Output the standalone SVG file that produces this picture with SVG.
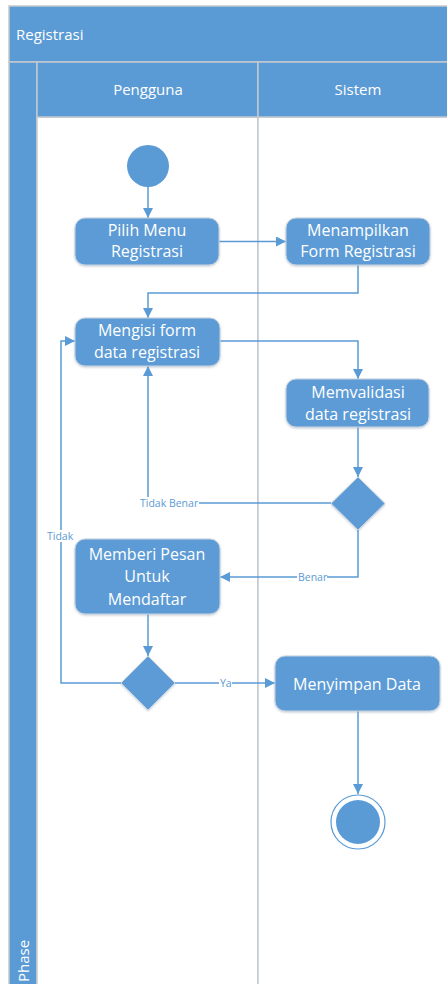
<svg xmlns="http://www.w3.org/2000/svg" width="447" height="984" viewBox="0 0 447 984">
  <defs>
    <marker id="arrow" viewBox="0 0 10 10" refX="10" refY="5" markerWidth="10" markerHeight="10" markerUnits="userSpaceOnUse" orient="auto">
      <path d="M0,0 L10,5 L0,10 Z" fill="#5b9bd5"/>
    </marker>
    <filter id="shadow" x="-10%" y="-10%" width="120%" height="130%">
      <feDropShadow dx="0" dy="1" stdDeviation="1" flood-color="#8a9bb0" flood-opacity="0.5"/>
    </filter>
  </defs>
  <style>
    .band { fill: #5b9bd5; stroke: #c3c9d0; stroke-width: 1.5; }
    .lane { fill: #ffffff; stroke: #c3c9d0; stroke-width: 1.5; }
    .hdr { font-family: "Open Sans", "Noto Sans", sans-serif; font-size: 15px; fill: #ffffff; }
    .act { fill: #5b9bd5; stroke: #c9d3de; stroke-width: 1; filter: url(#shadow); }
    .txt { font-family: "Open Sans", "Noto Sans", sans-serif; font-size: 16px; fill: #ffffff; text-anchor: middle; }
    .flow { fill: none; stroke: #5b9bd5; stroke-width: 1.5; }
    .lbl { font-family: "Open Sans", "Noto Sans", sans-serif; font-size: 10.5px; fill: #5b9bd5; }
  </style>

  <!-- pool frame -->
  <g id="pool">
    <rect class="band" x="9" y="6" width="440" height="56"/>
    <text class="hdr" x="16" y="40">Registrasi</text>
    <rect class="band" x="9" y="62" width="28" height="924"/>
    <text class="hdr" transform="translate(29,982) rotate(-90)">Phase</text>
    <rect class="lane" x="37" y="117" width="221" height="869"/>
    <rect class="lane" x="258" y="117" width="191" height="869"/>
    <rect class="band" x="37" y="62" width="221" height="55"/>
    <rect class="band" x="258" y="62" width="191" height="55"/>
    <text class="hdr" x="148" y="95" text-anchor="middle">Pengguna</text>
    <text class="hdr" x="358" y="95" text-anchor="middle">Sistem</text>
  </g>

  <!-- connectors -->
  <g id="connectors">
    <path class="flow" d="M148,187 V218" marker-end="url(#arrow)"/>
    <path class="flow" d="M219,241.5 H286" marker-end="url(#arrow)"/>
    <path class="flow" d="M358,265 V293 H148 V318" marker-end="url(#arrow)"/>
    <path class="flow" d="M220,341 H358 V379" marker-end="url(#arrow)"/>
    <path class="flow" d="M358,427 V477" marker-end="url(#arrow)"/>
    <path class="flow" d="M331,503 H148 V366" marker-end="url(#arrow)"/>
    <path class="flow" d="M358,530 V577 H220" marker-end="url(#arrow)"/>
    <path class="flow" d="M148,614 V656" marker-end="url(#arrow)"/>
    <path class="flow" d="M121,683 H61 V341 H75" marker-end="url(#arrow)"/>
    <path class="flow" d="M175,683 H275" marker-end="url(#arrow)"/>
    <path class="flow" d="M358,711 V794" marker-end="url(#arrow)"/>
    <!-- guard labels -->
    <rect x="139" y="497" width="60" height="12" fill="#ffffff"/>
    <text class="lbl" x="140" y="507">Tidak Benar</text>
    <rect x="297" y="571" width="30" height="12" fill="#ffffff"/>
    <text class="lbl" x="298" y="581">Benar</text>
    <rect x="46" y="530" width="28" height="12" fill="#ffffff"/>
    <text class="lbl" x="47" y="540">Tidak</text>
    <rect x="219" y="677" width="13" height="12" fill="#ffffff"/>
    <text class="lbl" x="220" y="687">Ya</text>
  </g>

  <!-- nodes -->
  <g id="start">
    <circle cx="148" cy="166" r="21" fill="#5b9bd5"/>
  </g>
  <g id="pilih-menu">
    <rect class="act" x="75" y="218" width="144" height="47" rx="10"/>
    <text class="txt" x="147" y="236">Pilih Menu</text>
    <text class="txt" x="147" y="257">Registrasi</text>
  </g>
  <g id="menampilkan-form">
    <rect class="act" x="286" y="218" width="144" height="47" rx="10"/>
    <text class="txt" x="358" y="236">Menampilkan</text>
    <text class="txt" x="358" y="257">Form Registrasi</text>
  </g>
  <g id="mengisi-form">
    <rect class="act" x="75" y="318" width="145" height="48" rx="10"/>
    <text class="txt" x="147" y="336">Mengisi form</text>
    <text class="txt" x="147" y="358">data registrasi</text>
  </g>
  <g id="memvalidasi">
    <rect class="act" x="286" y="379" width="143" height="48" rx="10"/>
    <text class="txt" x="358" y="398">Memvalidasi</text>
    <text class="txt" x="358" y="420">data registrasi</text>
  </g>
  <g id="cek-validasi">
    <path class="act" d="M358,477 L385,503.5 L358,530 L331,503.5 Z"/>
  </g>
  <g id="memberi-pesan">
    <rect class="act" x="75" y="539" width="145" height="75" rx="10"/>
    <text class="txt" x="147" y="560">Memberi Pesan</text>
    <text class="txt" x="147" y="582">Untuk</text>
    <text class="txt" x="147" y="605">Mendaftar</text>
  </g>
  <g id="cek-daftar">
    <path class="act" d="M148,656 L175,683 L148,710 L121,683 Z"/>
  </g>
  <g id="menyimpan-data">
    <rect class="act" x="275" y="656" width="165" height="55" rx="10"/>
    <text class="txt" x="357" y="690">Menyimpan Data</text>
  </g>
  <g id="end">
    <circle cx="358" cy="822" r="27" fill="none" stroke="#5b9bd5" stroke-width="1.2"/>
    <circle cx="358" cy="822" r="22" fill="#5b9bd5"/>
  </g>
</svg>
